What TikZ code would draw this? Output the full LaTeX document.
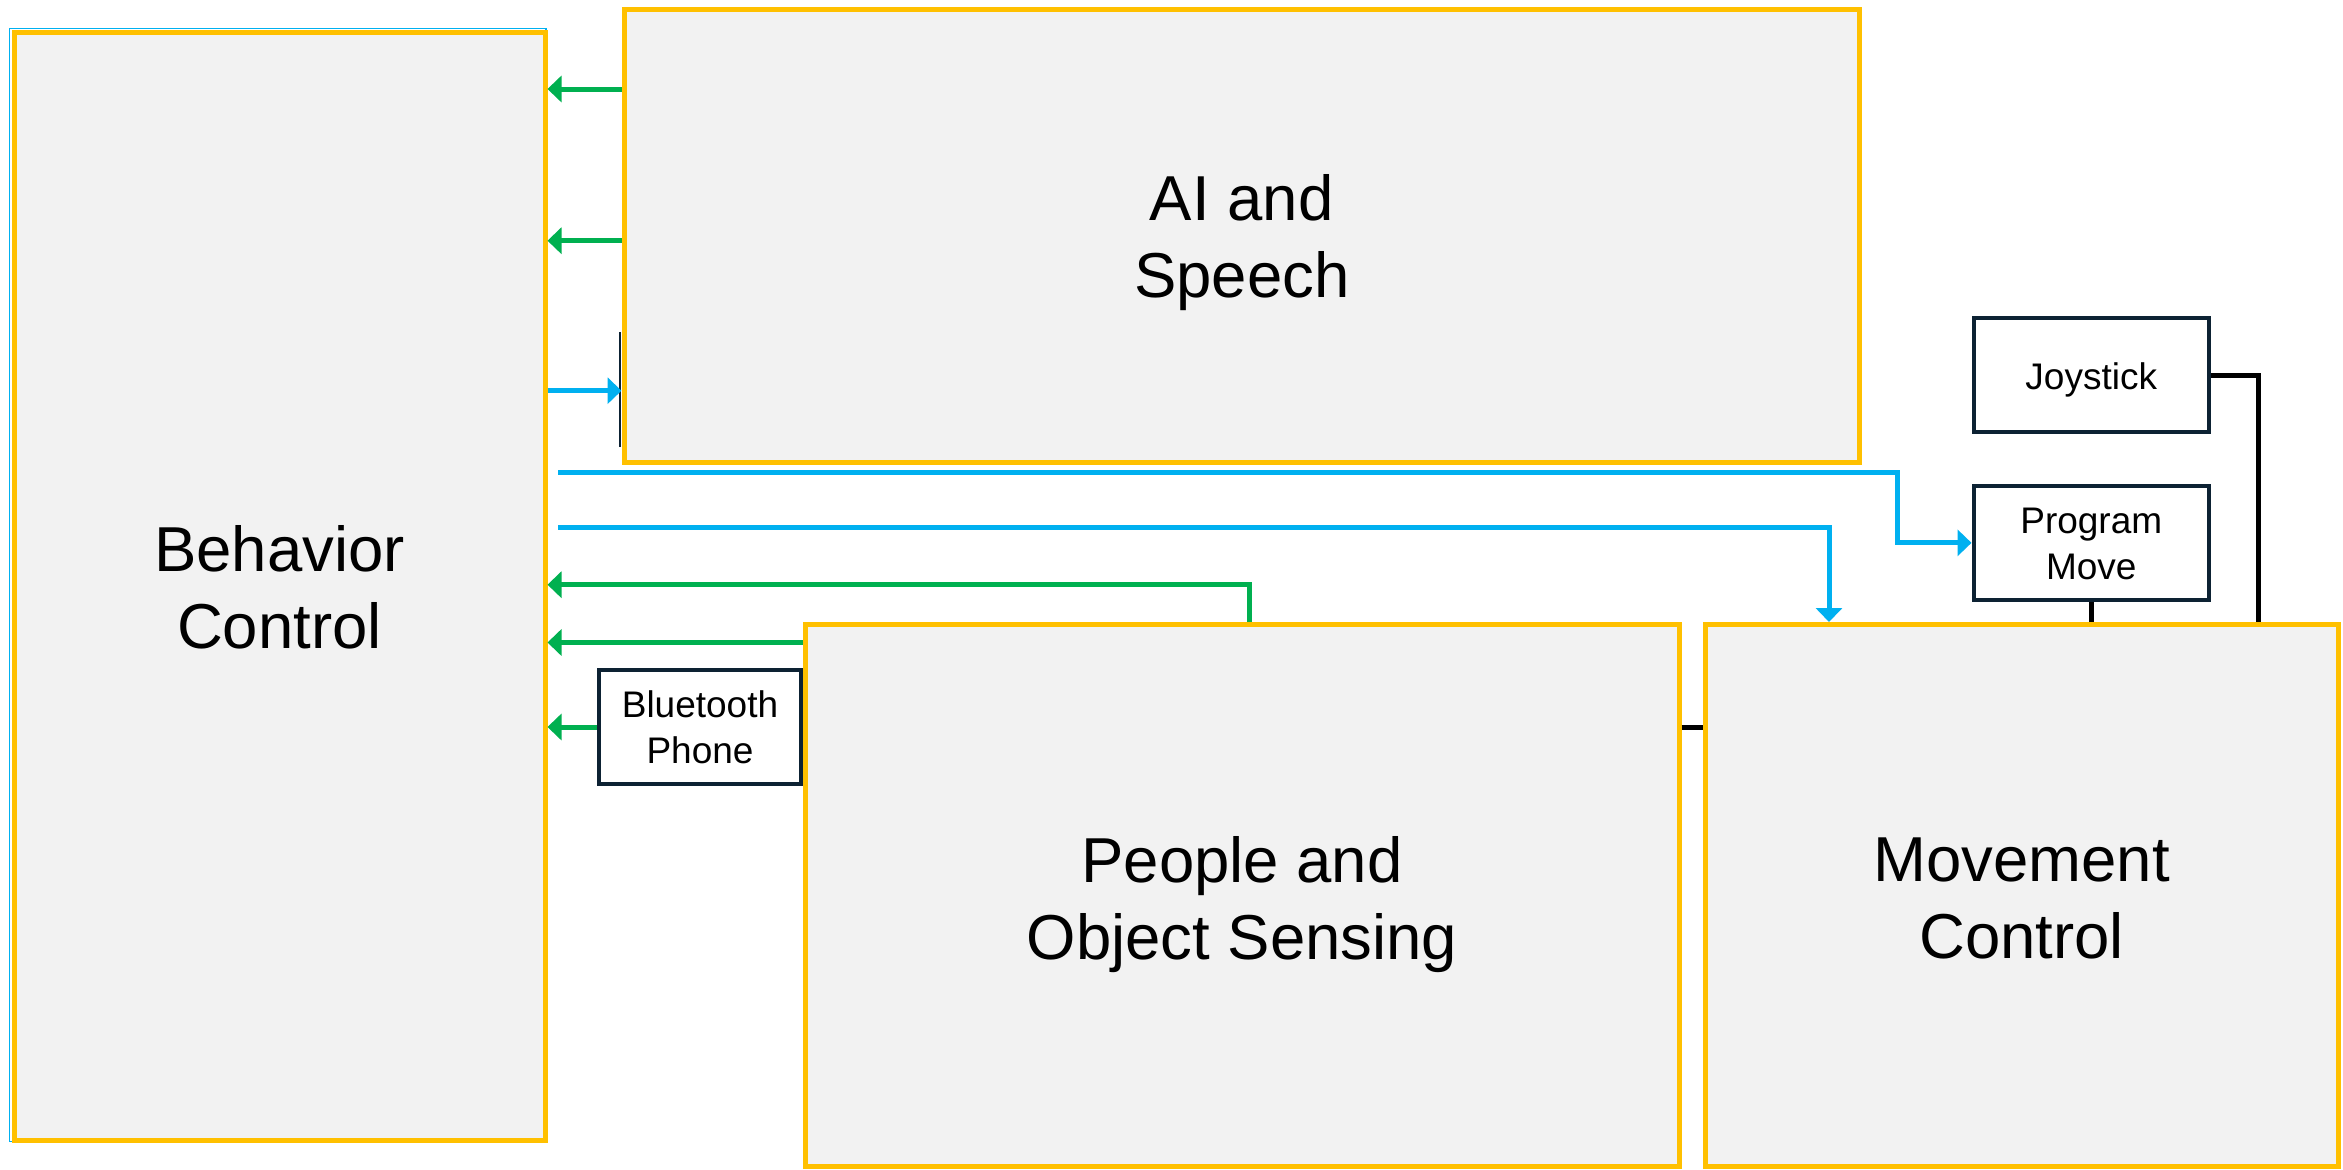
\documentclass[tikz,border=0pt]{standalone}
\usepackage{fontspec}
\setmainfont{Liberation Sans}
\usetikzlibrary{arrows.meta}
\definecolor{yel}{HTML}{FFC000}
\definecolor{boxgray}{HTML}{F2F2F2}
\definecolor{grn}{HTML}{00B050}
\definecolor{blu}{HTML}{00B0F0}
\definecolor{navy}{RGB}{13,34,51}
\tikzset{
  ybox/.style={draw=yel, fill=boxgray, line width=5pt, inner sep=0pt},
  dbox/.style={draw=navy, fill=white, line width=4pt, inner sep=0pt},
  bigtxt/.style={align=center, inner sep=0pt, font=\fontsize{63.5}{77}\selectfont},
  smalltxt/.style={align=center, inner sep=0pt, font=\fontsize{37}{46}\selectfont},
  tipx/.tip={Triangle[length=14pt,width=26pt]},
  garrow/.style={draw=grn, line width=5pt, -tipx},
  barrow/.style={draw=blu, line width=5pt, -tipx},
  kline/.style={draw=black, line width=5pt},
}
\begin{document}
\begin{tikzpicture}[x=1pt, y=-1pt]
\useasboundingbox (0,0) rectangle (2343,1170);
\fill[white] (0,0) rectangle (2343,1170);

% behavior control with blue outline behind
\draw[blu, line width=1.5pt] (9.5,28.5) rectangle (546,1141.5);
\node[ybox, minimum width=531pt, minimum height=1108pt] (bc) at (279.5,586.5) {};
\node[bigtxt] (bcT) at ([yshift=-1pt]bc.center) {Behavior\\Control};

% AI and speech
\node[ybox, minimum width=1235.5pt, minimum height=453pt] (ai) at (1241.75,236) {};
\node[bigtxt] (aiT) at ([yshift=-7pt]ai.center) {AI and\\Speech};
\coordinate (tk1) at (620,332);
\coordinate (tk2) at (620,447);
\draw[navy, line width=2pt] (tk1) -- (tk2);

% People and object sensing
\node[ybox, minimum width=874pt, minimum height=542pt] (po) at (1242,895.5) {};
\node[bigtxt] (poT) at ([yshift=-9.5pt]po.center) {People and\\Object Sensing};

% Movement control
\node[ybox, minimum width=633pt, minimum height=542pt] (mc) at (2021.5,895.5) {};
\node[bigtxt] (mcT) at ([yshift=-3pt]mc.center) {Movement\\Control};

% small boxes
\node[dbox, minimum width=235.5pt, minimum height=114pt] (joy) at (2091.25,375) {};
\node[smalltxt] (joyT) at ([yshift=-5.4pt]joy.center) {Joystick};
\node[dbox, minimum width=235.5pt, minimum height=113.7pt] (pm) at (2091.25,542.85) {};
\node[smalltxt] (pmT) at ([yshift=-1pt]pm.center) {Program\\Move};
\node[dbox, minimum width=202pt, minimum height=114pt] (bt) at (700,727) {};
\node[smalltxt] (btT) at (bt.center) {Bluetooth\\Phone};

% levels
\coordinate (g1) at (0,89);
\coordinate (g2) at (0,240.7);
\coordinate (b0) at (0,390.7);
\coordinate (g4) at (0,642.5);
\coordinate (k1) at (0,727.5);
\coordinate (b1s) at (558,472.8);
\coordinate (b1k) at (1897.6,472.8);
\coordinate (b2s) at (558,527);
\coordinate (b2k) at (1829,527);
\coordinate (g3k) at (1249,584.7);
\coordinate (jk) at (2258,0);

% green arrows into behavior control
\draw[garrow] (ai.west |- g1) -- (bc.east |- g1);
\draw[garrow] (ai.west |- g2) -- (bc.east |- g2);
\draw[garrow] (po.north -| g3k) -- (g3k) -- (bc.east |- g3k);
\draw[garrow] (po.west |- g4) -- (bc.east |- g4);
\draw[garrow] (bt.west) -- (bc.east |- bt.west);

% blue arrows out of behavior control
\draw[barrow] (bc.east |- b0) -- (ai.west |- b0);
\draw[barrow] (b1s) -- (b1k) |- (pm.west);
\draw[barrow] (b2s) -- (b2k) -- (b2k |- mc.north);

% black connectors
\draw[kline] (po.east |- k1) -- (mc.west |- k1);
\draw[kline] (joy.east) -| (jk |- mc.north);
\draw[kline] (pm.south) -- (pm.south |- mc.north);
\end{tikzpicture}
\end{document}
